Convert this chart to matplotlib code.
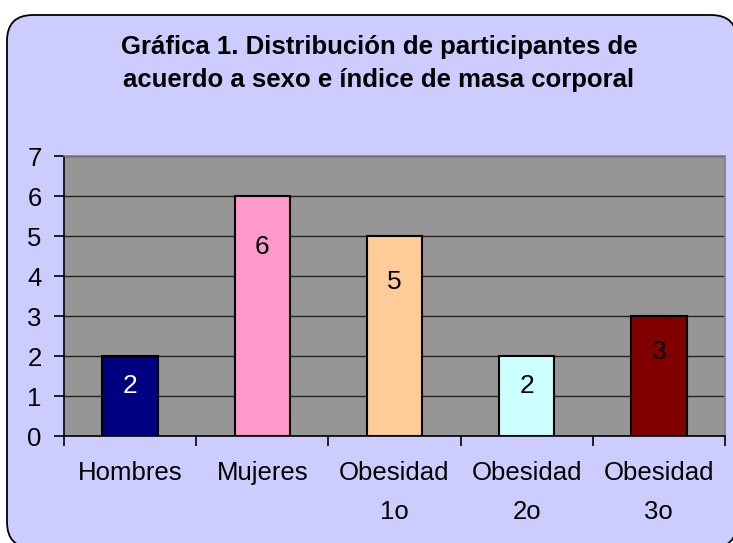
import matplotlib.pyplot as plt
from matplotlib.patches import FancyBboxPatch

plt.rcParams["font.family"] = ["Liberation Sans", "DejaVu Sans"]

# datos
categorias = ["Hombres", "Mujeres", "Obesidad\n1o", "Obesidad\n2o", "Obesidad\n3o"]
valores    = [2, 6, 5, 2, 3]

colores        = ["#000080", "#FF99CC", "#FFCC99", "#CCFFFF", "#800000"]
colores_texto  = ["white", "black", "black", "black", "black"]

titulo_1 = "Gráfica 1. Distribución de participantes de"
titulo_2 = "acuerdo a sexo e índice de masa corporal"


def main():
    fig = plt.figure(figsize=(7.33, 5.43), dpi=100)
    fig.patch.set_facecolor("white")

    # marco redondeado de fondo lila
    marco = FancyBboxPatch(
        (0.07, -0.05), 7.30, 5.33,
        boxstyle="round,pad=0,rounding_size=0.26",
        transform=fig.dpi_scale_trans,
        facecolor="#CCCCFF", edgecolor="black", linewidth=1.3,
        zorder=-5,
    )
    fig.patches.append(marco)

    fig.text(0.517, 0.913, titulo_1, ha="center", va="center",
             fontsize=18.5, fontweight="bold")
    fig.text(0.517, 0.853, titulo_2, ha="center", va="center",
             fontsize=18.5, fontweight="bold")

    ax = fig.add_axes([0.0873, 0.197, 0.9017, 0.5157])
    ax.set_facecolor("#969696")

    x = list(range(len(valores)))
    ax.bar(x, valores, width=0.42, color=colores, edgecolor="black",
           linewidth=1.5, zorder=3)

    for xi, v, c in zip(x, valores, colores_texto):
        ax.text(xi, v * 0.87 - 0.5, str(v), ha="center", va="center",
                fontsize=19, color=c, zorder=4)

    ax.set_xlim(-0.5, len(valores) - 0.5)
    ax.set_ylim(0, 7)
    ax.set_yticks(range(0, 8))
    ax.yaxis.grid(True, color="#222222", linewidth=1.0, zorder=1)
    ax.set_axisbelow(True)

    ax.set_xticks(x)
    ax.set_xticklabels(categorias, fontsize=18.5, linespacing=1.78)
    ax.set_xticks([i - 0.5 for i in range(len(valores) + 1)], minor=True)
    ax.tick_params(axis="x", which="major", length=0, pad=18)
    ax.tick_params(axis="x", which="minor", length=7, width=1.2,
                   direction="out", color="black")
    ax.tick_params(axis="y", length=7, width=1.2, direction="out",
                   labelsize=18.5, pad=9)

    for lado in ["top", "right"]:
        ax.spines[lado].set_color("#808080")
        ax.spines[lado].set_linewidth(1.2)
    for lado in ["left", "bottom"]:
        ax.spines[lado].set_color("black")
        ax.spines[lado].set_linewidth(1.2)

    fig.savefig("out.png", dpi=100)
    plt.close(fig)


if __name__ == "__main__":
    main()
